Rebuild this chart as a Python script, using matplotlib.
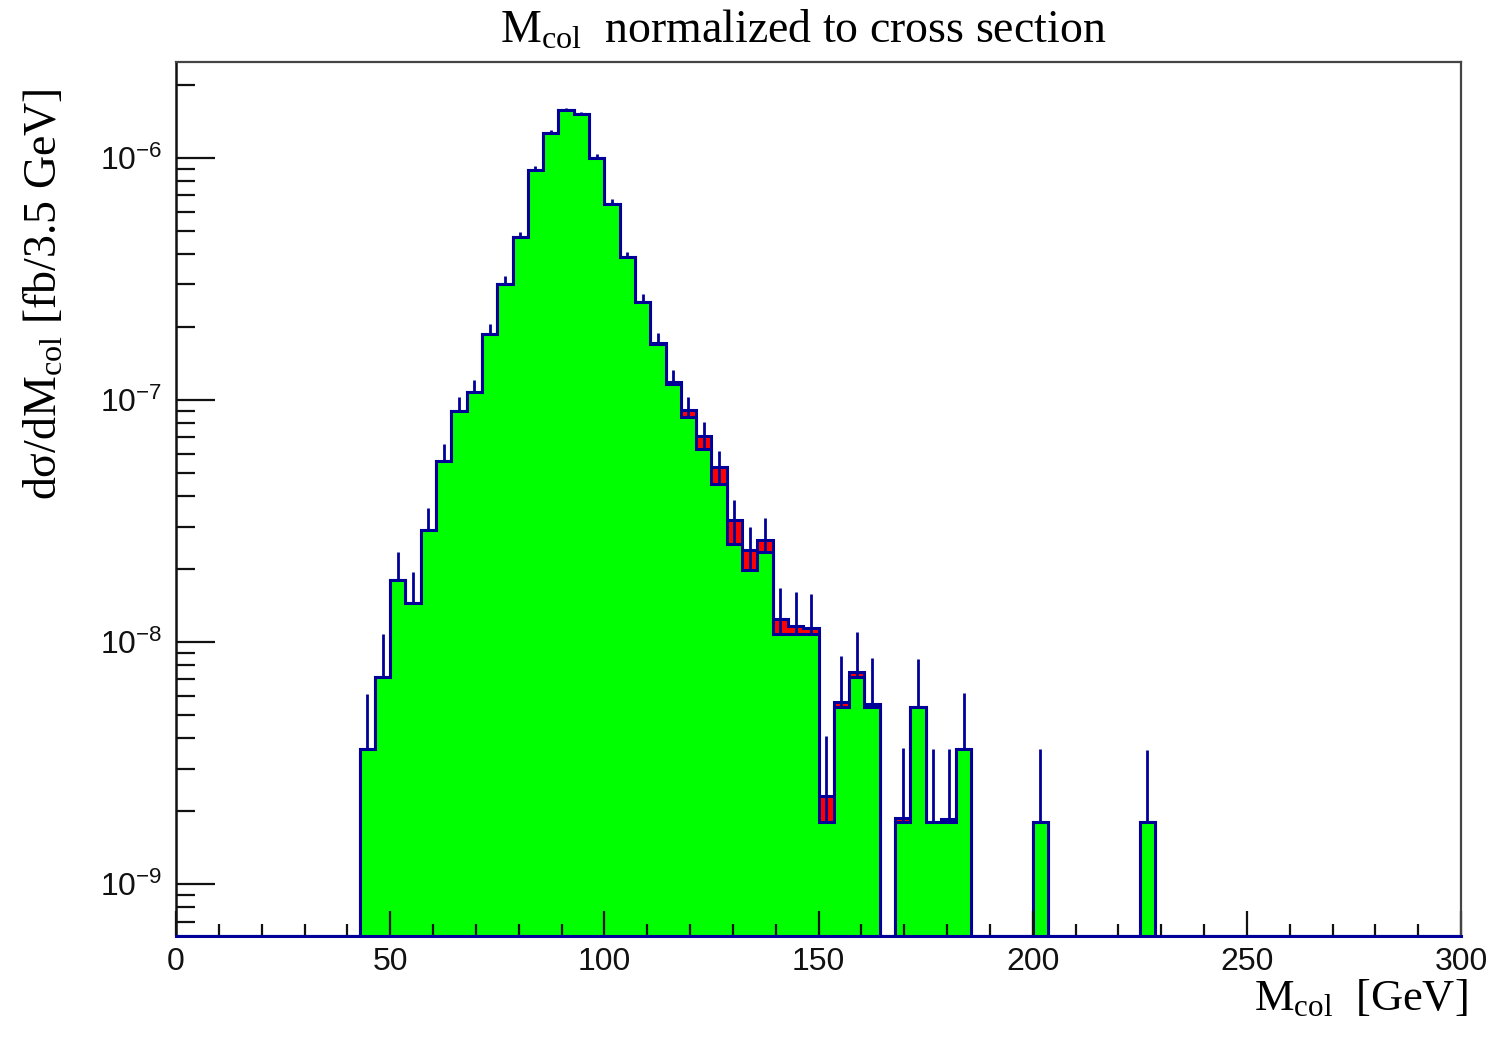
import numpy as np
import matplotlib.pyplot as plt
from matplotlib.ticker import MultipleLocator, LogLocator, NullFormatter

# histogram: 84 bins over 0..300 GeV, first filled bin is number 12
n_bins = 84
x_lo, x_hi = 0, 300
first_bin = 12

# green histogram (main sample), bins 12..63
green = [3.6e-9, 7.2e-9, 1.8e-8, 1.45e-8, 2.9e-8, 5.6e-8, 9.0e-8, 1.08e-7,
         1.88e-7, 3.0e-7, 4.7e-7, 8.9e-7, 1.27e-6, 1.57e-6, 1.52e-6, 1.0e-6,
         6.45e-7, 3.9e-7, 2.53e-7, 1.71e-7, 1.16e-7, 8.5e-8, 6.3e-8, 4.5e-8,
         2.53e-8, 1.99e-8, 2.35e-8, 1.08e-8, 1.08e-8, 1.08e-8, 1.8e-9, 5.4e-9,
         7.2e-9, 5.4e-9, 0, 1.8e-9, 5.4e-9, 1.8e-9, 1.8e-9, 3.6e-9,
         0, 0, 0, 0, 1.8e-9, 0, 0, 0, 0, 0, 0, 1.8e-9]

# stacked total (red shows above green)
total = [3.6e-9, 7.2e-9, 1.8e-8, 1.45e-8, 2.9e-8, 5.6e-8, 9.0e-8, 1.08e-7,
         1.88e-7, 3.0e-7, 4.7e-7, 8.9e-7, 1.27e-6, 1.57e-6, 1.52e-6, 1.0e-6,
         6.45e-7, 3.9e-7, 2.53e-7, 1.72e-7, 1.19e-7, 9.06e-8, 7.08e-8, 5.29e-8,
         3.19e-8, 2.40e-8, 2.63e-8, 1.24e-8, 1.165e-8, 1.144e-8, 2.31e-9, 5.66e-9,
         7.55e-9, 5.57e-9, 0, 1.88e-9, 5.4e-9, 1.8e-9, 1.85e-9, 3.6e-9,
         0, 0, 0, 0, 1.8e-9, 0, 0, 0, 0, 0, 0, 1.8e-9]

# upper end of error bars
err_top = [6.07e-9, 1.08e-8, 2.35e-8, 1.94e-8, 3.59e-8, 6.59e-8, 1.03e-7, 1.21e-7,
           2.05e-7, 3.24e-7, 4.96e-7, 9.27e-7, 1.31e-6, 1.60e-6, 1.55e-6, 1.04e-6,
           6.79e-7, 4.1e-7, 2.74e-7, 1.89e-7, 1.33e-7, 1.03e-7, 8.11e-8, 6.14e-8,
           3.85e-8, 3.0e-8, 3.26e-8, 1.675e-8, 1.607e-8, 1.572e-8, 4.09e-9, 8.75e-9,
           1.1e-8, 8.61e-9, 0, 3.66e-9, 8.48e-9, 3.6e-9, 3.63e-9, 6.18e-9,
           0, 0, 0, 0, 3.6e-9, 0, 0, 0, 0, 0, 0, 3.57e-9]

y_min, y_max = 6.1e-10, 2.49e-6
navy = '#000099'


def full(vals):
    arr = np.zeros(n_bins)
    arr[first_bin:first_bin + len(vals)] = vals
    return arr


edges = np.linspace(x_lo, x_hi, n_bins + 1)
centers = 0.5 * (edges[:-1] + edges[1:])
g = full(green)
t = full(total)
e = full(err_top)
g_draw = np.where(g > 0, g, y_min)
t_draw = np.where(t > 0, t, y_min)

plt.rcParams['font.family'] = ['Liberation Sans', 'DejaVu Sans']

fig = plt.figure(figsize=(14.96, 10.45), dpi=100)
ax = fig.add_axes([176 / 1496, 1 - 936 / 1045, (1461 - 176) / 1496, (936 - 62) / 1045])

ax.stairs(t_draw, edges, baseline=y_min, fill=True, facecolor='#ff0000', edgecolor='none')
ax.stairs(t_draw, edges, baseline=y_min, color=navy, linewidth=2.2)
ax.stairs(g_draw, edges, baseline=y_min, fill=True, facecolor='#00ff00', edgecolor='none')
ax.stairs(g_draw, edges, baseline=y_min, color=navy, linewidth=2.2)

m = e > 0
ax.vlines(centers[m], g[m], e[m], color=navy, linewidth=2.0)

ax.set_yscale('log')
ax.set_xlim(x_lo, x_hi)
ax.set_ylim(y_min, y_max)

ax.xaxis.set_major_locator(MultipleLocator(50))
ax.xaxis.set_minor_locator(MultipleLocator(10))
ax.yaxis.set_major_locator(LogLocator(base=10, numticks=20))
ax.yaxis.set_minor_locator(LogLocator(base=10, subs=np.arange(2, 10), numticks=20))
ax.yaxis.set_minor_formatter(NullFormatter())

ax.tick_params(axis='both', which='both', direction='in', top=False, right=False,
               colors='#111111', width=1.6)
ax.tick_params(axis='x', which='major', length=18, pad=8, labelsize=23)
ax.tick_params(axis='x', which='minor', length=9)
ax.tick_params(axis='y', which='major', length=28, pad=10, labelsize=23)
ax.tick_params(axis='y', which='minor', length=14)

for side in ['top', 'right']:
    ax.spines[side].set_color('#444444')
    ax.spines[side].set_linewidth(1.6)
ax.spines['left'].set_color('#111111')
ax.spines['left'].set_linewidth(1.8)
ax.spines['bottom'].set_color(navy)
ax.spines['bottom'].set_linewidth(2.2)

serif = ['Liberation Serif', 'DejaVu Serif']
fig.text(500 / 1496, 1 - 43 / 1045, r'$\mathregular{M_{col}}$  normalized to cross section',
         family=serif, fontsize=33, ha='left', va='baseline')
fig.text(1468 / 1496, 1 - 1010 / 1045, r'$\mathregular{M_{col}}$  [GeV]',
         family=serif, fontsize=32, ha='right', va='baseline')
fig.text(45 / 1496, 1 - 88 / 1045, r'd$\mathregular{\sigma}$/d$\mathregular{M_{col}}$ [fb/3.5 GeV]',
         family=serif, fontsize=33, ha='center', va='top', rotation=90)

fig.savefig('out.png', dpi=100)
